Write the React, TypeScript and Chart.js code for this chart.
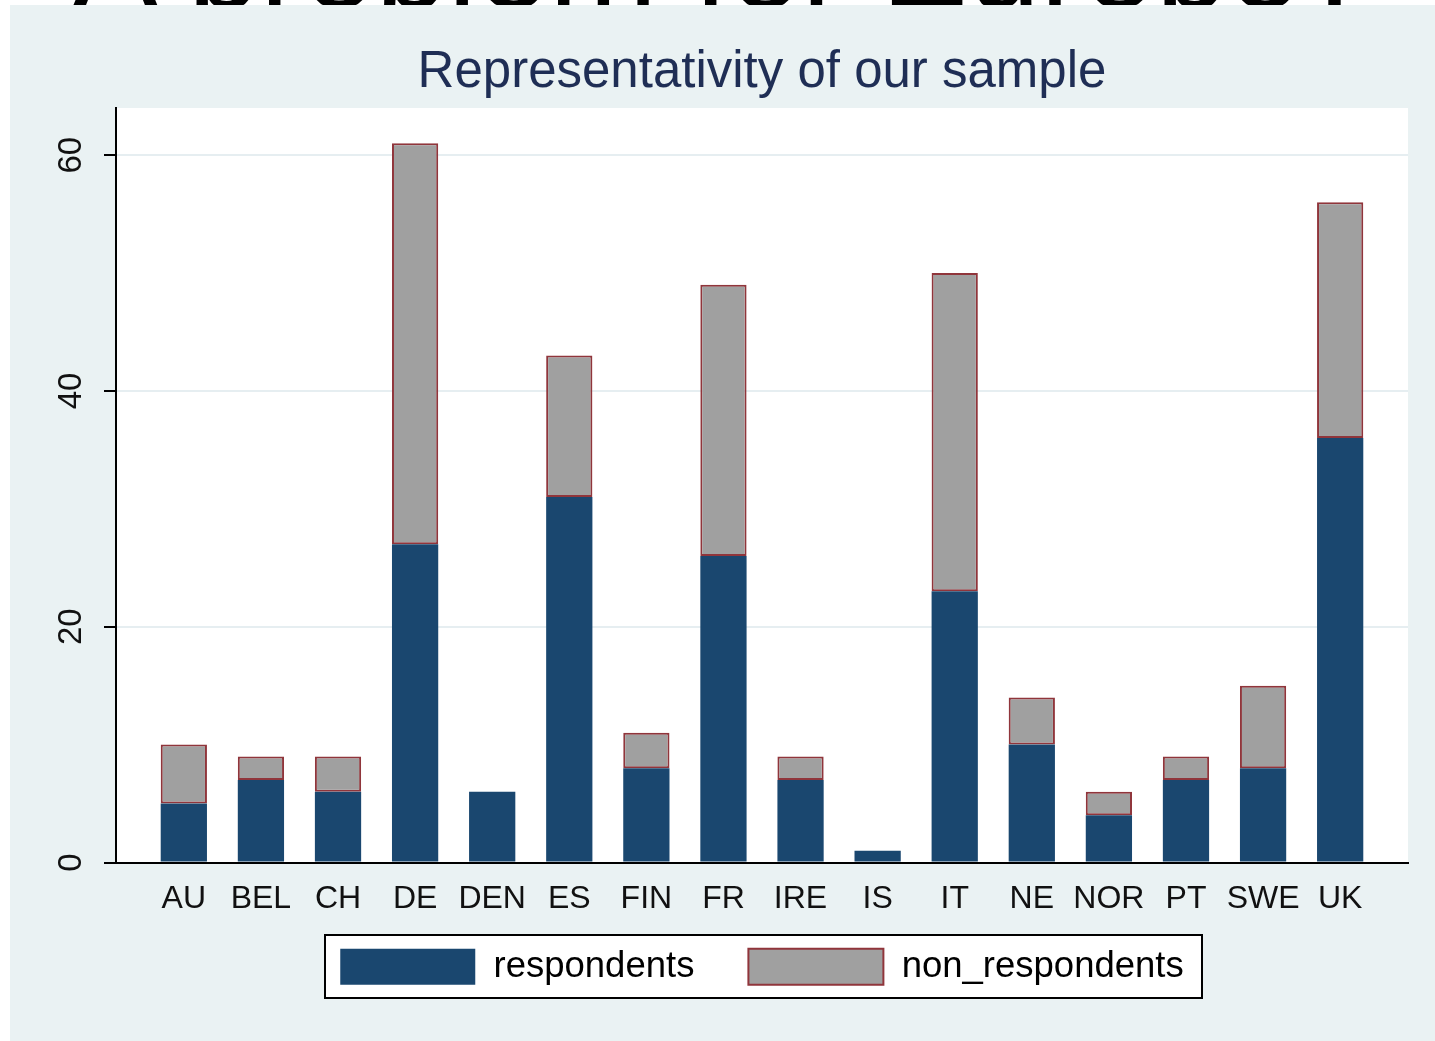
import React, { useEffect, useRef } from 'react';
import { Chart, registerables } from 'chart.js';

Chart.register(...registerables);

const pageTitle = 'A problem for Europe?';
const chartTitle = 'Representativity of our sample';
const categories = ['AU', 'BEL', 'CH', 'DE', 'DEN', 'ES', 'FIN', 'FR', 'IRE', 'IS', 'IT', 'NE', 'NOR', 'PT', 'SWE', 'UK'];
const respondents = [5, 7, 6, 27, 6, 31, 8, 26, 7, 1, 23, 10, 4, 7, 8, 36];
const nonRespondents = [5, 2, 3, 34, 0, 12, 3, 23, 2, 0, 27, 4, 2, 2, 7, 20];
const yTicks = [0, 20, 40, 60];
const yMax = 64;

const FONT = '"Liberation Sans", Arial, sans-serif';
const NAVY = '#1a476f';
const GRAY = '#a0a0a0';
const MAROON = '#90353b';
const PANEL_BG = '#eaf2f3';
const X_EDGE = 0.88;

const backgroundPlugin = {
  id: 'stataPanel',
  beforeDraw(chart: any) {
    const { ctx, chartArea: a } = chart;
    const xs = chart.scales.x;
    if (xs) xs.bottom = xs.top + 70;
    ctx.save();
    ctx.fillStyle = '#ffffff';
    ctx.fillRect(a.left, a.top, a.right - a.left, a.bottom - a.top);
    const hb = chart.legend && chart.legend.legendHitBoxes;
    if (hb && hb.length) {
      const first = hb[0];
      const last = hb[hb.length - 1];
      const x0 = Math.round(first.left - 15);
      const x1 = Math.round(last.left + last.width + 18);
      const y0 = Math.round(first.top - 14);
      const y1 = Math.round(first.top + first.height + 13);
      ctx.fillRect(x0, y0, x1 - x0, y1 - y0);
      ctx.lineWidth = 2;
      ctx.strokeStyle = '#000000';
      ctx.strokeRect(x0, y0, x1 - x0, y1 - y0);
    }
    ctx.restore();
  },
};

function StataChart() {
  const ref = useRef<HTMLCanvasElement | null>(null);
  useEffect(() => {
    if (!ref.current) return;
    const chart = new Chart(ref.current, {
      type: 'bar',
      data: {
        labels: categories,
        datasets: [
          {
            label: 'respondents',
            data: respondents,
            backgroundColor: NAVY,
            borderWidth: 0,
            categoryPercentage: 1,
            barPercentage: 0.6,
          },
          {
            label: 'non_respondents',
            data: nonRespondents,
            backgroundColor: GRAY,
            borderColor: MAROON,
            borderWidth: 2,
            borderSkipped: false,
            categoryPercentage: 1,
            barPercentage: 0.6,
          },
        ],
      },
      options: {
        responsive: false,
        animation: false,
        events: [],
        layout: { padding: { left: 0, right: 27, top: 0, bottom: 46 } },
        plugins: {
          tooltip: { enabled: false },
          title: {
            display: true,
            text: chartTitle,
            fullSize: false,
            color: '#1f2e55',
            font: { family: FONT, size: 51, weight: 'normal' },
            padding: { top: 37.5, bottom: 4.3 },
          },
          legend: {
            display: true,
            position: 'bottom',
            fullSize: false,
            labels: {
              boxWidth: 135,
              boxHeight: 36,
              padding: 54,
              color: '#000000',
              font: { family: FONT, size: 36.5 },
            },
          },
        },
        scales: {
          x: {
            type: 'category',
            stacked: true,
            offset: true,
            grid: { display: false, drawTicks: false },
            border: { display: true, color: '#000000', width: 2 },
            ticks: {
              autoSkip: false,
              maxRotation: 0,
              minRotation: 0,
              padding: 17,
              color: '#111111',
              font: { family: FONT, size: 32 },
            },
            afterBuildTicks: (s: any) => {
              s._startValue = -X_EDGE;
              s._valueRange = categories.length - 1 + 2 * X_EDGE;
            },
            afterFit: (s: any) => {
              s.height = 32;
            },
          },
          y: {
            type: 'linear',
            stacked: true,
            min: 0,
            max: yMax,
            grid: {
              color: '#e6eef1',
              lineWidth: 2,
              drawTicks: true,
              tickLength: 12,
              tickColor: '#000000',
              tickWidth: 2,
            },
            border: { display: true, color: '#000000', width: 2 },
            ticks: {
              minRotation: 90,
              maxRotation: 90,
              crossAlign: 'center',
              padding: 14,
              color: '#111111',
              font: { family: FONT, size: 33 },
            },
            afterBuildTicks: (s: any) => {
              s.ticks = yTicks.map((v) => ({ value: v }));
            },
            afterFit: (s: any) => {
              s.width = 106;
            },
          },
        },
      },
      plugins: [backgroundPlugin],
    } as any);
    return () => chart.destroy();
  }, []);
  return <canvas ref={ref} width={1425} height={1036} style={{ display: 'block' }} />;
}

export default function App() {
  return (
    <div
      style={{
        position: 'fixed',
        left: 0,
        top: 0,
        width: 1435,
        height: 1041,
        background: '#ffffff',
        overflow: 'hidden',
      }}
    >
      <div
        style={{
          position: 'absolute',
          left: 72,
          top: -102,
          fontFamily: FONT,
          fontSize: 130,
          lineHeight: '130px',
          color: '#000000',
          whiteSpace: 'nowrap',
        }}
      >
        {pageTitle}
      </div>
      <div
        style={{
          position: 'absolute',
          left: 10,
          top: 5,
          width: 1425,
          height: 1036,
          background: PANEL_BG,
        }}
      >
        <StataChart />
      </div>
    </div>
  );
}
